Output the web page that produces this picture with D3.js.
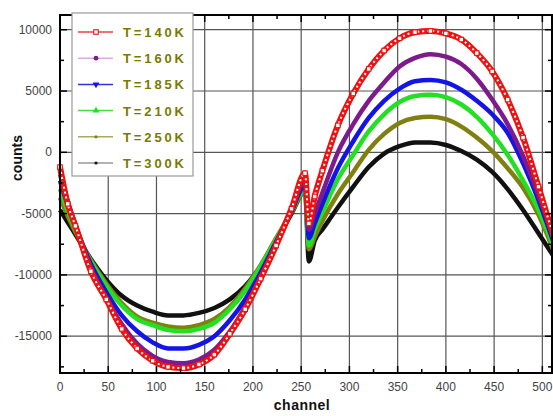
<!DOCTYPE html>
<head>
    <meta charset="utf-8">
    <style>
        body {
            margin: 0;
            background: #fff;
            font-family: "Liberation Sans", Arial, sans-serif;
        }
        .tick-label {
            font-size: 12px;
            fill: #444;
        }
        .axis-title {
            font-size: 14px;
            font-weight: bold;
            fill: #111;
        }
        .legend-text {
            font-size: 13px;
            font-weight: bold;
            fill: #7a7a00;
        }
    </style>
</head>

<body>
    <div id="chart-area"></div>

    <script src="https://cdn.jsdelivr.net/npm/d3@7"></script>
    <script>
        var channels = [0, 8, 16, 32, 48, 64, 80, 96, 112, 128, 144, 160, 176, 192, 208, 224, 240, 254,
            258, 264, 272, 288, 304, 320, 336, 352, 368, 384, 400, 416, 432, 448, 464, 480, 496, 511];

        var labels = ["T=140K", "T=160K", "T=185K", "T=210K", "T=250K", "T=300K"];

        var counts140 = [-1200, -4200, -6000, -9700, -12000, -14400, -16000, -17000, -17500, -17600, -17300, -16500, -14800, -12800, -10300, -7600, -4600, -1700,
            -5800, -3600, -1500, 2200, 4800, 6800, 8300, 9300, 9800, 9900, 9700, 9200, 8100, 6600, 4300, 1200, -2800, -6700];
        var counts160 = [-1800, -4000, -5900, -9400, -11900, -14000, -15600, -16600, -17100, -17200, -16900, -16100, -14600, -12600, -10200, -7500, -4700, -2300,
            -6300, -5000, -3300, 0, 2300, 4200, 5700, 7000, 7700, 8000, 7800, 7200, 6000, 4300, 2300, -300, -3500, -6900];
        var counts185 = [-2300, -4300, -6000, -9100, -11400, -13300, -14600, -15500, -16000, -16000, -15700, -15000, -13700, -12000, -9800, -7300, -4800, -2700,
            -7000, -5800, -4200, -1300, 900, 2800, 4200, 5200, 5800, 5900, 5700, 5100, 4200, 3100, 1600, -900, -3900, -7200];
        var counts210 = [-3000, -4800, -6300, -8900, -10900, -12500, -13600, -14100, -14500, -14600, -14400, -13900, -12800, -11300, -9300, -7100, -4800, -3000,
            -7600, -6300, -4900, -2200, -200, 1700, 3100, 4100, 4600, 4700, 4500, 3900, 2900, 1500, -200, -2300, -4700, -7600];
        var counts250 = [-3700, -5200, -6500, -8800, -10700, -12300, -13400, -13900, -14200, -14300, -14100, -13600, -12600, -11100, -9200, -7000, -4900, -3200,
            -7900, -6900, -5600, -3400, -1600, 200, 1500, 2400, 2800, 2900, 2700, 2100, 1200, 100, -1300, -2900, -5100, -7900];
        var counts300 = [-4700, -5700, -6700, -8700, -10400, -11700, -12500, -13000, -13300, -13300, -13100, -12700, -12000, -10900, -9300, -7300, -5000, -3200,
            -8900, -7200, -6300, -4500, -2800, -1200, -100, 500, 800, 800, 600, 100, -600, -1600, -3000, -4700, -6600, -8400];

        var xTicks = [0, 50, 100, 150, 200, 250, 300, 350, 400, 450, 500];
        var yTicks = [-15000, -10000, -5000, 0, 5000, 10000];

        var allCounts = [counts140, counts160, counts185, counts210, counts250, counts300];
        var colors = ["#ee1111", "#7d1a8c", "#1414e6", "#22e022", "#808010", "#111111"];
        var legendLine = ["#e84040", "#e0a8e8", "#3030e0", "#40e040", "#a8a860", "#999999"];
        var symbols = ["square", "circle", "triangleDown", "triangle", "dot", "dot"];

        var W = 553, H = 416;
        var margins = { left: 60, right: 1, top: 15, bottom: 43 };

        var x = d3.scaleLinear().domain([0, 510]).range([margins.left, W - margins.right]);
        var y = d3.scaleLinear().domain([-18000, 11200]).range([H - margins.bottom, margins.top]);

        var svg = d3.select("#chart-area").append("svg")
            .attr("width", W).attr("height", H);

        // grid
        svg.append("g").selectAll("line").data(xTicks).join("line")
            .attr("x1", d => x(d)).attr("x2", d => x(d))
            .attr("y1", y.range()[1]).attr("y2", y.range()[0])
            .attr("stroke", "#555").attr("stroke-width", 1.2);
        svg.append("g").selectAll("line").data(yTicks).join("line")
            .attr("y1", d => y(d)).attr("y2", d => y(d))
            .attr("x1", x.range()[0]).attr("x2", x.range()[1])
            .attr("stroke", "#555").attr("stroke-width", 1.2);

        // curves
        var line = d3.line()
            .x((d, i) => x(channels[i]))
            .y(d => y(d))
            .curve(d3.curveMonotoneX);

        var plot = svg.append("g");
        var order = [5, 4, 3, 2, 1, 0];
        order.forEach(function (k) {
            var vals = allCounts[k];
            plot.append("path").datum(vals)
                .attr("d", line)
                .attr("fill", "none")
                .attr("stroke", colors[k])
                .attr("stroke-width", k == 0 ? 6 : 4.5)
                .attr("stroke-linejoin", "round");
            if (k == 0) {
                // open squares look
                plot.append("path").datum(vals)
                    .attr("d", line)
                    .attr("fill", "none")
                    .attr("stroke", "#fff")
                    .attr("stroke-width", 2)
                    .attr("stroke-dasharray", "2,3");
            }
        });

        function drawMarker(g, type, cx, cy, col, s) {
            s = s || 1;
            if (type == "square") {
                g.append("rect").attr("x", cx - 2.5 * s).attr("y", cy - 2.5 * s).attr("width", 5 * s).attr("height", 5 * s)
                    .attr("fill", "#fff").attr("stroke", col).attr("stroke-width", 1.1);
            } else if (type == "circle") {
                g.append("circle").attr("cx", cx).attr("cy", cy).attr("r", 2.6 * s).attr("fill", col);
            } else if (type == "dot") {
                g.append("circle").attr("cx", cx).attr("cy", cy).attr("r", 1.8 * s).attr("fill", col);
            } else {
                g.append("path").attr("d", d3.symbol().type(d3.symbolTriangle).size(24 * s * s)())
                    .attr("transform", "translate(" + cx + "," + cy + ")" + (type == "triangleDown" ? " rotate(180)" : ""))
                    .attr("fill", col);
            }
        }

        // open squares along the 140 K curve
        counts140.forEach(function (v, i) {
            drawMarker(plot, "square", x(channels[i]), y(v), colors[0], 0.9);
        });

        // frame
        svg.append("rect")
            .attr("x", x.range()[0]).attr("y", y.range()[1])
            .attr("width", x.range()[1] - x.range()[0])
            .attr("height", y.range()[0] - y.range()[1])
            .attr("fill", "none").attr("stroke", "#000").attr("stroke-width", 2);

        // ticks, inward on all sides
        var xMinor = d3.range(25, 510, 50);
        var yMinor = d3.range(-17500, 11200, 5000);
        var ticks = svg.append("g").attr("stroke", "#000").attr("stroke-width", 1.5);
        function xTick(list, len) {
            list.forEach(function (t) {
                ticks.append("line").attr("x1", x(t)).attr("x2", x(t))
                    .attr("y1", y.range()[0]).attr("y2", y.range()[0] - len);
                ticks.append("line").attr("x1", x(t)).attr("x2", x(t))
                    .attr("y1", y.range()[1]).attr("y2", y.range()[1] + len);
            });
        }
        function yTick(list, len) {
            list.forEach(function (t) {
                ticks.append("line").attr("y1", y(t)).attr("y2", y(t))
                    .attr("x1", x.range()[0]).attr("x2", x.range()[0] + len);
                ticks.append("line").attr("y1", y(t)).attr("y2", y(t))
                    .attr("x1", x.range()[1]).attr("x2", x.range()[1] - len);
            });
        }
        xTick(xTicks, 7); xTick(xMinor, 4);
        yTick(yTicks, 7); yTick(yMinor, 4);

        // tick labels
        svg.append("g").selectAll("text").data(xTicks).join("text")
            .attr("class", "tick-label")
            .attr("x", d => x(d)).attr("y", y.range()[0] + 18)
            .attr("text-anchor", "middle")
            .text(d => d);
        svg.append("g").selectAll("text").data(yTicks).join("text")
            .attr("class", "tick-label")
            .attr("x", x.range()[0] - 8).attr("y", d => y(d) + 4)
            .attr("text-anchor", "end")
            .text(d => d);

        svg.append("text").attr("class", "axis-title")
            .attr("x", 302).attr("y", 410)
            .attr("text-anchor", "middle")
            .attr("letter-spacing", 0.5)
            .text("channel");
        svg.append("text").attr("class", "axis-title")
            .attr("transform", "translate(22,158) rotate(-90)")
            .attr("text-anchor", "middle")
            .text("counts");

        // legend
        var lg = svg.append("g");
        lg.append("rect").attr("x", 72).attr("y", 13).attr("width", 121).attr("height", 163)
            .attr("fill", "#fff").attr("stroke", "#999").attr("stroke-width", 1.2);
        labels.forEach(function (lab, i) {
            var ly = 32 + i * 26.2;
            lg.append("line").attr("x1", 78).attr("x2", 113).attr("y1", ly).attr("y2", ly)
                .attr("stroke", legendLine[i]).attr("stroke-width", 1.5);
            drawMarker(lg, symbols[i], 96, ly, colors[i], 0.9);
            lg.append("text").attr("class", "legend-text")
                .attr("x", 123).attr("y", ly + 5)
                .attr("textLength", 61).attr("lengthAdjust", "spacing")
                .text(lab);
        });
    </script>
</body>
